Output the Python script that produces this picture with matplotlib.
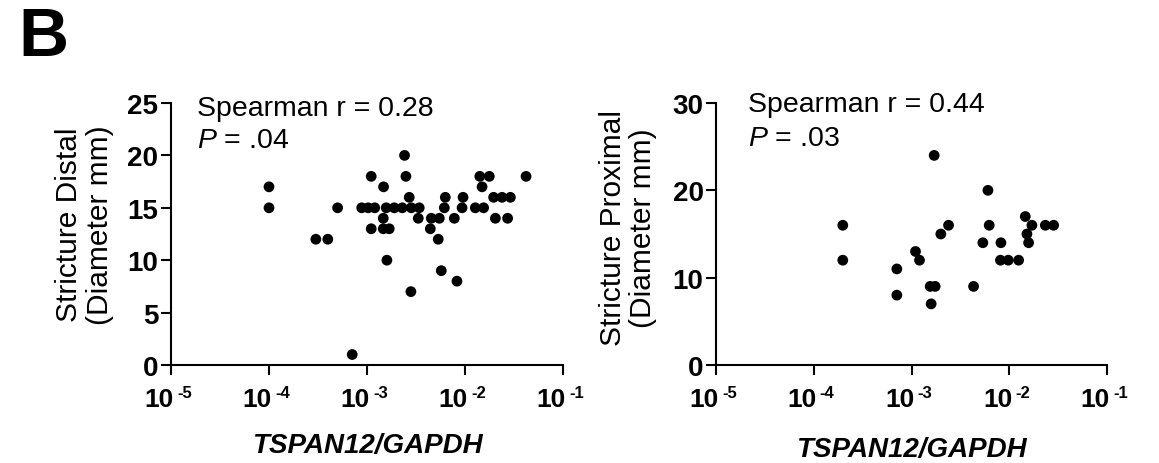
import matplotlib
matplotlib.use("Agg")
import matplotlib.pyplot as plt
import matplotlib.transforms as mtransforms
import numpy as np

plt.rcParams['font.family'] = ['Liberation Sans', 'DejaVu Sans']
plt.rcParams['mathtext.fontset'] = 'custom'
plt.rcParams['mathtext.rm'] = 'Liberation Sans'
plt.rcParams['mathtext.it'] = 'Liberation Sans:italic'
plt.rcParams['mathtext.bf'] = 'Liberation Sans:bold'

# ---- Data (log10 of TSPAN12/GAPDH, diameter mm) ----
distal_log_x = [-4.0, -4.0, -3.522, -3.40, -3.30, -3.151,
                -3.054, -2.988, -2.921, -2.957, -2.957,
                -2.831, -2.834, -2.834, -2.773, -2.797,
                -2.804, -2.722, -2.64, -2.548, -2.467,
                -2.617, -2.603, -2.569, -2.552, -2.477,
                -2.344, -2.262, -2.354, -2.273, -2.242,
                -2.201, -2.211, -2.109, -2.082, -2.02, -2.03,
                -1.895, -1.81, -1.849, -1.752, -1.826,
                -1.708, -1.622, -1.537, -1.69, -1.565, -1.377]
distal_y = [17, 15, 12, 12, 15, 1,
            15, 15, 15, 18, 13,
            17, 14, 13, 13, 10,
            15, 15, 15, 15, 15,
            20, 18, 16, 7, 14,
            14, 14, 13, 12, 9,
            16, 15, 14, 8, 16, 15,
            15, 15, 18, 18, 17,
            16, 16, 16, 14, 14, 18]

proximal_log_x = [-3.703, -3.703, -3.15, -3.15, -2.959, -2.918,
                  -2.809, -2.758, -2.799, -2.768, -2.70, -2.621,
                  -2.365, -2.27, -2.218, -2.205, -2.085,
                  -2.09, -2.01, -1.904,
                  -1.836, -1.768, -1.819, -1.802, -1.631, -1.546]
proximal_y = [16, 12, 11, 8, 13, 12,
              9, 9, 7, 24, 15, 16,
              9, 14, 20, 16, 14,
              12, 12, 12,
              17, 16, 15, 14, 16, 16]

x_tick_exponents = [-5, -4, -3, -2, -1]
distal_yticks = [0, 5, 10, 15, 20, 25]
proximal_yticks = [0, 10, 20, 30]

W, H = 1159, 464
fig = plt.figure(figsize=(W / 100, H / 100), dpi=100)


def make_ax(left_px, right_px, x_log, y, yticks, ylabel, r_text, p_text,
            text_x, r_base, p_base, ylab_x, ylab_y, xlab_base):
    ax = fig.add_axes([left_px / W, (H - 366) / H, (right_px - left_px) / W, 262 / H])
    ax.scatter(10 ** np.array(x_log), y, s=60, color='black', edgecolors='none',
               zorder=3, clip_on=False)
    ax.set_xscale('log')
    ax.set_xlim(1e-5, 1e-1)
    ax.set_ylim(yticks[0], yticks[-1])
    xt = [10.0 ** e for e in x_tick_exponents]
    ax.set_xticks(xt)
    ax.set_xticklabels([''] * len(xt))
    ax.xaxis.set_minor_locator(matplotlib.ticker.NullLocator())
    ax.set_yticks(yticks)
    ax.set_yticklabels([str(t) for t in yticks], fontweight='bold')
    for s in ['top', 'right']:
        ax.spines[s].set_visible(False)
    for s in ['left', 'bottom']:
        ax.spines[s].set_linewidth(1.5)
    ax.tick_params(axis='both', which='major', length=7, width=1.5,
                   labelsize=20, direction='out', pad=2)
    # x tick labels: "10" with a superscript exponent
    blend = mtransforms.blended_transform_factory(ax.transData, ax.transAxes)
    for e, v in zip(x_tick_exponents, xt):
        t_main = mtransforms.offset_copy(blend, fig=fig, x=3, y=-41, units='dots')
        ax.text(v, 0, '10', transform=t_main, fontsize=19, fontweight='bold',
                ha='right', va='baseline')
        t_sup = mtransforms.offset_copy(blend, fig=fig, x=6, y=-32, units='dots')
        ax.text(v, 0, str(e), transform=t_sup, fontsize=12, fontweight='bold',
                ha='left', va='baseline')
    ax.set_xlabel('TSPAN12/GAPDH', fontsize=20, fontweight='bold',
                  fontstyle='italic', va='baseline')
    ax.xaxis.set_label_coords(0.5, (366 - xlab_base) / 262)
    ax.set_ylabel(ylabel, fontsize=21.5, linespacing=1.1, va='center')
    ax.yaxis.set_label_coords(ylab_x, ylab_y)
    ax.text(text_x, r_base, r_text, transform=ax.transAxes, fontsize=20.5,
            va='baseline', ha='left')
    ax.text(text_x, p_base, p_text, transform=ax.transAxes, fontsize=20.5,
            va='baseline', ha='left')
    return ax


make_ax(171, 563, distal_log_x, distal_y, distal_yticks,
        'Stricture Distal\n(Diameter mm)', 'Spearman r = 0.28', r'$\mathit{P}$ = .04',
        0.066, 0.954, 0.832, -0.2207, 0.538, 453)
make_ax(716, 1107, proximal_log_x, proximal_y, proximal_yticks,
        'Stricture Proximal\n(Diameter mm)', 'Spearman r = 0.44', r'$\mathit{P}$ = .03',
        0.083, 0.968, 0.838, -0.226, 0.527, 457)

fig.text(18 / W, 1 - 6 / H, 'B', fontsize=50, fontweight='bold', va='top', ha='left')

fig.savefig('out.png', dpi=100)
